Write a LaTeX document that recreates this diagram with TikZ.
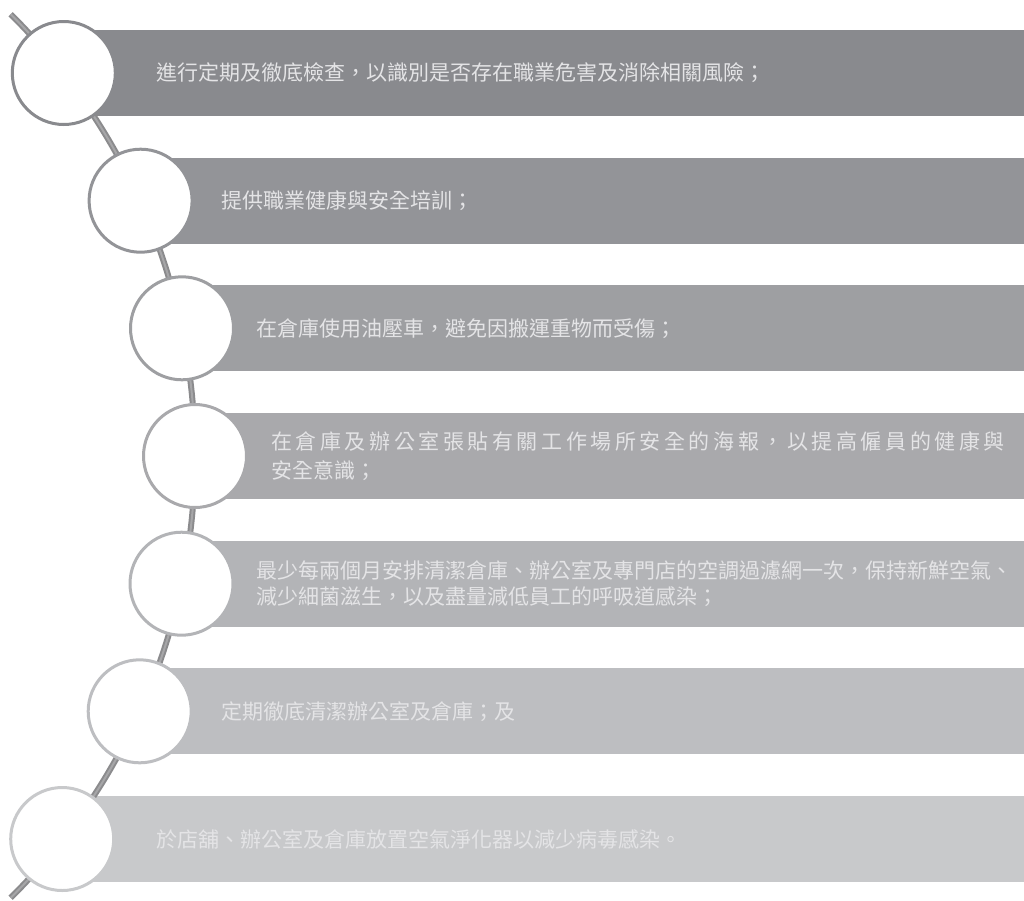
\documentclass[tikz,border=0pt]{standalone}
\usepackage{fontspec}
\newfontfamily\cjk{Noto Sans CJK TC}
\newfontfamily\cjkwide[LetterSpace=17]{Noto Sans CJK TC}
\definecolor{barone}{HTML}{898A8E}
\definecolor{bartwo}{HTML}{939498}
\definecolor{barthree}{HTML}{9E9FA2}
\definecolor{barfour}{HTML}{A9A9AC}
\definecolor{barfive}{HTML}{B3B4B7}
\definecolor{barsix}{HTML}{BDBEC1}
\definecolor{barseven}{HTML}{C8C9CB}
\definecolor{spineout}{HTML}{8B8B8D}
\definecolor{spinein}{HTML}{A6A6A8}
\definecolor{itemfg}{HTML}{E4E4E6}

\begin{document}
\begin{tikzpicture}[x=1pt,y=-1pt,
  ring/.style={circle,draw,line width=3pt,fill=white,minimum size=103pt,inner sep=0pt},
  itemtext/.style={anchor=west,inner sep=0pt,text=itemfg,align=left,font=\cjk\fontsize{21}{26}\selectfont}]
\useasboundingbox (0,0) rectangle (1024,900);
% bars
\fill[barone] (63.8,30.0) rectangle (1024,116.0);
\fill[bartwo] (140.6,157.7) rectangle (1024,243.7);
\fill[barthree] (182.0,285.3) rectangle (1024,371.3);
\fill[barfour] (195.0,413.0) rectangle (1024,499.0);
\fill[barfive] (181.5,540.7) rectangle (1024,626.7);
\fill[barsix] (139.7,668.3) rectangle (1024,754.3);
\fill[barseven] (62.2,796.0) rectangle (1024,882.0);
% spine
\draw[spineout,line width=6pt] (-426.6,456) ++(-45.3:621.6) arc[start angle=-45.3,end angle=45.3,radius=621.6];
\draw[spinein,line width=2pt] (-426.6,456) ++(-45.3:621.6) arc[start angle=-45.3,end angle=45.3,radius=621.6];
% rings
\node[ring,draw=barone] (c1) at (63.8,73.0) {};
\node[ring,draw=bartwo] (c2) at (140.6,200.7) {};
\node[ring,draw=barthree] (c3) at (182.0,328.3) {};
\node[ring,draw=barfour] (c4) at (195.0,456.0) {};
\node[ring,draw=barfive] (c5) at (181.5,583.7) {};
\node[ring,draw=barsix] (c6) at (139.7,711.3) {};
\node[ring,draw=barseven] (c7) at (62.2,839.0) {};
% texts
\node[itemtext] (t1) at (156,73.0) {進行定期及徹底檢查，以識別是否存在職業危害及消除相關風險；};
\node[itemtext] (t2) at (221,200.7) {提供職業健康與安全培訓；};
\node[itemtext] (t3) at (256,328.3) {在倉庫使用油壓車，避免因搬運重物而受傷；};
\node[itemtext,font=\cjk\fontsize{21}{29}\selectfont] (t4) at (271,456.0) {{\cjkwide 在倉庫及辦公室張貼有關工作場所安全的海報，以提高僱員的健康與}\\安全意識；};
\node[itemtext] (t5) at (256,583.7) {最少每兩個月安排清潔倉庫、辦公室及專門店的空調過濾網一次，保持新鮮空氣、\\減少細菌滋生，以及盡量減低員工的呼吸道感染；};
\node[itemtext] (t6) at (221,711.3) {定期徹底清潔辦公室及倉庫；及};
\node[itemtext] (t7) at (156,839.0) {於店舖、辦公室及倉庫放置空氣淨化器以減少病毒感染。};
\end{tikzpicture}
\end{document}
